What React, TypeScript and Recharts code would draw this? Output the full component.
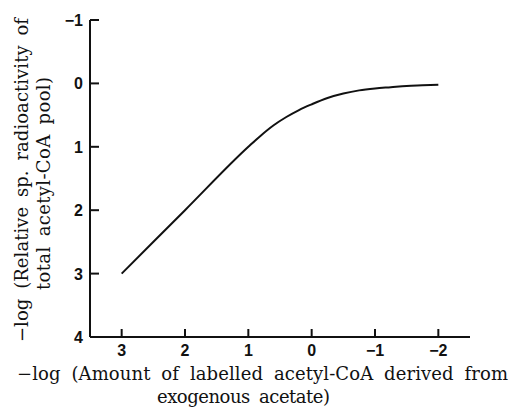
import React from 'react';
import { LineChart, Line, XAxis, YAxis, Label } from 'recharts';

const xValues = [3, 2, 1, 0.8, 0.6, 0.4, 0.2, 0, -0.25, -0.5, -0.75, -1, -1.25, -1.5, -1.75, -2];
const yValues = [3, 2, 1, 0.82, 0.66, 0.53, 0.42, 0.33, 0.23, 0.16, 0.11, 0.08, 0.06, 0.04, 0.03, 0.02];
const xTicks = [3, 2, 1, 0, -1, -2];
const yTicks = [-1, 0, 1, 2, 3, 4];
const xTitle1 = '\u2212log (Amount of labelled acetyl-CoA derived from';
const xTitle2 = 'exogenous acetate)';
const yTitle1 = '\u2212log (Relative sp. radioactivity of';
const yTitle2 = 'total acetyl-CoA pool)';

const data = xValues.map((x, i) => ({ x, y: yValues[i] }));

const INK = '#111';
const tickFont = '"Liberation Sans", Arial, sans-serif';
const titleFont = '"DejaVu Serif", serif';

const fmt = (v: number) => (v < 0 ? '\u2212' + Math.abs(v) : String(v));

const YTick = (props: any) => {
  const { x, y, payload } = props;
  return (
    <g>
      <line x1={x} y1={y} x2={x + 9} y2={y} stroke={INK} strokeWidth={2} />
      <text x={x - 7} y={y} dy={6} textAnchor="end" fontFamily={tickFont} fontWeight="bold" fontSize={16} fill={INK}>
        {fmt(payload.value)}
      </text>
    </g>
  );
};

const XTick = (props: any) => {
  const { x, y, payload } = props;
  return (
    <g>
      <line x1={x} y1={y} x2={x} y2={y - 8} stroke={INK} strokeWidth={2} />
      <text x={x} y={y} dy={19} textAnchor="middle" fontFamily={tickFont} fontWeight="bold" fontSize={16} fill={INK}>
        {fmt(payload.value)}
      </text>
    </g>
  );
};

const XTitle = () => (
  <g fontFamily={titleFont} fontSize={18} fill={INK}>
    <text x={17} y={380} textLength={491} lengthAdjust="spacing" wordSpacing={5}>
      {xTitle1}
    </text>
    <text x={157} y={403} textLength={173} lengthAdjust="spacing" wordSpacing={4}>
      {xTitle2}
    </text>
  </g>
);

const YTitle = () => (
  <g fontFamily={titleFont} fontSize={18} fill={INK}>
    <text x={28} y={342} transform="rotate(-90 28 342)" textLength={324} lengthAdjust="spacing" wordSpacing={4}>
      {yTitle1}
    </text>
    <text x={50} y={290} transform="rotate(-90 50 290)" textLength={213} lengthAdjust="spacing" wordSpacing={4}>
      {yTitle2}
    </text>
  </g>
);

export default function App() {
  return (
    <div style={{ position: 'absolute', left: 0, top: 0, width: 518, height: 414, background: '#fff' }}>
      <LineChart width={518} height={414} data={data} margin={{ top: 20, right: 48, bottom: 0, left: 0 }}>
        <XAxis
          dataKey="x"
          type="number"
          domain={[-2.5, 3.5]}
          reversed
          ticks={xTicks}
          interval={0}
          height={77}
          tickSize={0}
          tickMargin={0}
          tickLine={false}
          axisLine={{ stroke: INK, strokeWidth: 2 }}
          tick={<XTick />}
        >
          <Label content={<XTitle />} />
        </XAxis>
        <YAxis
          dataKey="y"
          type="number"
          domain={[-1, 4]}
          reversed
          ticks={yTicks}
          interval={0}
          width={90}
          tickSize={0}
          tickMargin={0}
          tickLine={false}
          axisLine={{ stroke: INK, strokeWidth: 2 }}
          tick={<YTick />}
        >
          <Label content={<YTitle />} />
        </YAxis>
        <Line
          type="monotone"
          dataKey="y"
          stroke={INK}
          strokeWidth={2}
          dot={false}
          isAnimationActive={false}
        />
      </LineChart>
    </div>
  );
}
